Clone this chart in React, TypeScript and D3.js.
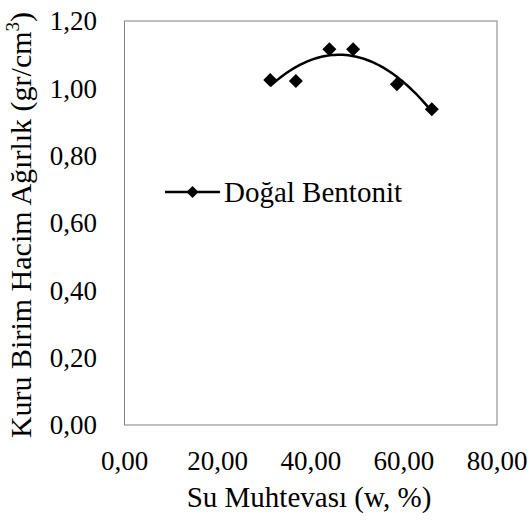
import React from "react";
import * as d3 from "d3";

const width = 531;
const height = 520;
const margin = { top: 21, right: 34, bottom: 95, left: 124.5 };

const moisture = [31.3, 36.8, 44.0, 49.1, 58.5, 66.0];
const density = [1.025, 1.022, 1.116, 1.116, 1.012, 0.938];

const xTicks = [0, 20, 40, 60, 80];
const yTicks = [0, 0.2, 0.4, 0.6, 0.8, 1.0, 1.2];
const seriesName = "Doğal Bentonit";

const font = "'Liberation Serif', 'DejaVu Serif', serif";
const fmt = (v: number) => v.toFixed(2).replace(".", ",");

// 2nd order least squares trendline (like excel's polynomial trendline)
function polyFit(xs: number[], ys: number[]) {
  const n = xs.length;
  let s = [0, 0, 0, 0, 0];
  let t = [0, 0, 0];
  for (let i = 0; i < n; i++) {
    for (let k = 0; k < 5; k++) s[k] += Math.pow(xs[i], k);
    for (let k = 0; k < 3; k++) t[k] += Math.pow(xs[i], k) * ys[i];
  }
  const m = [
    [s[0], s[1], s[2], t[0]],
    [s[1], s[2], s[3], t[1]],
    [s[2], s[3], s[4], t[2]],
  ];
  for (let c = 0; c < 3; c++) {
    for (let r = c + 1; r < 3; r++) {
      const f = m[r][c] / m[c][c];
      for (let k = c; k < 4; k++) m[r][k] -= f * m[c][k];
    }
  }
  const a = [0, 0, 0];
  for (let r = 2; r >= 0; r--) {
    let v = m[r][3];
    for (let k = r + 1; k < 3; k++) v -= m[r][k] * a[k];
    a[r] = v / m[r][r];
  }
  return (x: number) => a[0] + a[1] * x + a[2] * x * x;
}

function Diamond({ x, y, r }: { x: number; y: number; r: number }) {
  return (
    <path
      d={`M${x},${y - r}L${x + r},${y}L${x},${y + r}L${x - r},${y}Z`}
      fill="#000"
    />
  );
}

const tickStyle = { fontFamily: font, fontSize: 27, fill: "#000" };
const titleStyle = { fontFamily: font, fontSize: 29, fill: "#000" };

export default function App() {
  const xScale = d3
    .scaleLinear()
    .domain([0, 80])
    .range([margin.left, width - margin.right]);
  const yScale = d3
    .scaleLinear()
    .domain([0, 1.2])
    .range([height - margin.bottom, margin.top]);

  const fit = polyFit(moisture, density);
  const x0 = d3.min(moisture) as number;
  const x1 = d3.max(moisture) as number;
  const curvePts = d3.range(0, 61).map((i) => {
    const x = x0 + ((x1 - x0) * i) / 60;
    return [x, fit(x)] as [number, number];
  });
  const line = d3
    .line<[number, number]>()
    .x((d) => xScale(d[0]))
    .y((d) => yScale(d[1]));

  const plotBottom = height - margin.bottom;
  const plotRight = width - margin.right;

  return (
    <div style={{ position: "absolute", left: 0, top: 0 }}>
      <svg width={width} height={height} style={{ display: "block", background: "#fff" }}>
        <rect
          x={margin.left}
          y={margin.top}
          width={plotRight - margin.left}
          height={plotBottom - margin.top}
          fill="none"
          stroke="#808080"
          strokeWidth={1}
        />
        {yTicks.map((t) => (
          <text
            key={"y" + t}
            x={97}
            y={yScale(t)}
            dy="0.35em"
            textAnchor="end"
            style={tickStyle}
          >
            {fmt(t)}
          </text>
        ))}
        {xTicks.map((t) => (
          <text
            key={"x" + t}
            x={xScale(t)}
            y={461}
            dy="0.35em"
            textAnchor="middle"
            style={tickStyle}
          >
            {fmt(t)}
          </text>
        ))}
        <text
          x={309}
          y={497}
          dy="0.35em"
          textAnchor="middle"
          style={titleStyle}
        >
          Su Muhtevası (w, %)
        </text>
        <text
          transform="translate(31,225) rotate(-90)"
          textAnchor="middle"
          style={{ ...titleStyle, fontSize: 30 }}
        >
          Kuru Birim Hacim  Ağırlık (gr/cm
          <tspan style={{ fontSize: 19 }} dy="-12">3</tspan>
          <tspan dy="12">)</tspan>
        </text>

        <path d={line(curvePts) || ""} fill="none" stroke="#000" strokeWidth={2.5} />
        {moisture.map((m, i) => (
          <Diamond key={i} x={xScale(m)} y={yScale(density[i])} r={7} />
        ))}

        {/* legend */}
        <line x1={165} x2={220} y1={192} y2={192} stroke="#000" strokeWidth={2.5} />
        <Diamond x={192.5} y={192} r={6} />
        <text x={224} y={192} dy="0.35em" style={titleStyle}>
          {seriesName}
        </text>
      </svg>
    </div>
  );
}
